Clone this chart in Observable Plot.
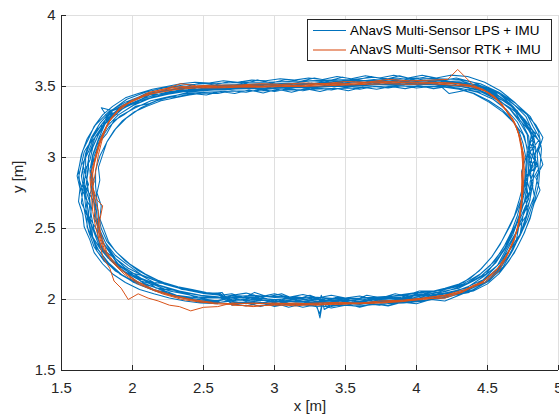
<!DOCTYPE html>
<html><head><meta charset="utf-8">
<script src="https://cdn.jsdelivr.net/npm/d3@7"></script>
<script src="https://cdn.jsdelivr.net/npm/@observablehq/plot@0.6"></script>
<style>
body{margin:0;background:#fff;}
#wrap{position:relative;width:559px;height:420px;font-family:"Liberation Sans",Arial,sans-serif;}
#legend{position:absolute;left:307px;top:19px;width:245px;height:42px;border:1px solid #262626;background:#fff;box-sizing:border-box;font-size:13.4px;color:#000;}
.item{position:absolute;left:0;height:16px;width:240px;}
.sw{position:absolute;left:5px;width:33px;}
.lab{position:absolute;left:42px;top:0;line-height:16px;white-space:nowrap;}
</style>
</head><body>
<div id="wrap">
<div id="chart"></div>
<div id="legend">
  <div class="item" style="top:3px"><div class="sw" style="top:7px;height:1px;background:#0072BD"></div><div class="lab">ANavS Multi-Sensor LPS + IMU</div></div>
  <div class="item" style="top:22px"><div class="sw" style="top:7px;height:2px;background:#eba183"></div><div class="lab">ANavS Multi-Sensor RTK + IMU</div></div>
</div>
</div>
<script>
const xTicks = [1.5, 2, 2.5, 3, 3.5, 4, 4.5, 5];
const yTicks = [1.5, 2, 2.5, 3, 3.5, 4];
const seriesNames = ["ANavS Multi-Sensor LPS + IMU", "ANavS Multi-Sensor RTK + IMU"];

// LPS + IMU laps (x [m], y [m])
const lps1 = [[2.70,1.97],[2.86,1.975],[3.01,1.96],[3.15,1.97],[3.29,1.95],[3.46,1.96],[3.61,1.955],[3.75,1.97],[3.91,1.975],[4.06,1.99],[4.21,2.02],[4.37,2.05],[4.51,2.13],[4.61,2.23],[4.68,2.35],[4.73,2.46],[4.77,2.58],[4.80,2.71],[4.82,2.82],[4.83,2.95],[4.84,3.06],[4.82,3.18],[4.77,3.29],[4.68,3.38],[4.58,3.46],[4.45,3.52],[4.30,3.55],[4.15,3.555],[4.00,3.56],[3.85,3.55],[3.70,3.565],[3.55,3.55],[3.40,3.545],[3.25,3.54],[3.10,3.535],[2.95,3.53],[2.80,3.53],[2.65,3.525],[2.50,3.52],[2.36,3.51],[2.22,3.49],[2.09,3.46],[1.96,3.41],[1.85,3.33],[1.77,3.24],[1.71,3.14],[1.67,3.03],[1.65,2.91],[1.66,2.80],[1.68,2.69],[1.69,2.58],[1.71,2.47],[1.75,2.36],[1.82,2.27],[1.91,2.18],[2.03,2.11],[2.16,2.06],[2.31,2.02],[2.46,1.99],[2.59,1.98]];
const lps2 = [[2.70,2.03],[2.85,2.02],[3.00,2.025],[3.15,2.01],[3.30,2.015],[3.45,2.005],[3.60,2.01],[3.75,2.02],[3.90,2.03],[4.05,2.05],[4.19,2.07],[4.33,2.11],[4.45,2.18],[4.55,2.27],[4.62,2.38],[4.67,2.48],[4.71,2.59],[4.74,2.70],[4.76,2.82],[4.77,2.94],[4.78,3.05],[4.76,3.15],[4.71,3.25],[4.63,3.34],[4.54,3.41],[4.43,3.46],[4.30,3.49],[4.15,3.50],[4.00,3.50],[3.85,3.505],[3.70,3.50],[3.55,3.49],[3.40,3.485],[3.25,3.48],[3.10,3.475],[2.95,3.47],[2.80,3.47],[2.65,3.465],[2.50,3.46],[2.38,3.45],[2.26,3.43],[2.13,3.40],[2.02,3.35],[1.91,3.29],[1.83,3.21],[1.77,3.12],[1.73,3.01],[1.71,2.91],[1.72,2.80],[1.74,2.69],[1.75,2.58],[1.77,2.49],[1.81,2.40],[1.88,2.31],[1.97,2.24],[2.07,2.17],[2.20,2.12],[2.34,2.08],[2.48,2.05],[2.61,2.035]];
const lps3 = [[2.70,1.99],[2.84,2.01],[3.00,1.98],[3.14,2.00],[3.31,1.97],[3.33,2.03],[3.35,1.93],[3.46,1.99],[3.60,1.97],[3.76,2.00],[3.90,1.99],[4.04,2.03],[4.20,2.03],[4.36,2.09],[4.47,2.14],[4.59,2.26],[4.64,2.35],[4.71,2.48],[4.73,2.57],[4.79,2.71],[4.77,2.83],[4.82,2.94],[4.79,3.05],[4.81,3.17],[4.73,3.26],[4.67,3.37],[4.55,3.43],[4.45,3.50],[4.29,3.51],[4.16,3.54],[4.01,3.52],[3.85,3.545],[3.69,3.52],[3.56,3.535],[3.41,3.50],[3.24,3.525],[3.11,3.495],[2.94,3.51],[2.81,3.49],[2.66,3.505],[2.49,3.48],[2.38,3.49],[2.23,3.45],[2.12,3.44],[1.98,3.37],[1.89,3.32],[1.79,3.22],[1.75,3.14],[1.69,3.01],[1.69,2.92],[1.67,2.79],[1.72,2.70],[1.70,2.57],[1.75,2.49],[1.77,2.37],[1.86,2.30],[1.93,2.20],[2.06,2.15],[2.17,2.08],[2.33,2.06],[2.46,2.01],[2.61,2.01]];
const lps4 = [[2.70,2.00],[2.85,1.99],[3.00,2.00],[3.15,1.98],[3.30,1.985],[3.45,1.97],[3.60,1.985],[3.75,1.98],[3.90,2.00],[4.05,2.01],[4.20,2.04],[4.36,2.07],[4.50,2.13],[4.61,2.22],[4.69,2.33],[4.75,2.45],[4.80,2.57],[4.83,2.69],[4.86,2.81],[4.87,2.94],[4.88,3.06],[4.86,3.18],[4.80,3.29],[4.70,3.38],[4.58,3.46],[4.44,3.51],[4.30,3.53],[4.15,3.54],[4.00,3.535],[3.85,3.54],[3.70,3.53],[3.55,3.53],[3.40,3.52],[3.25,3.52],[3.10,3.51],[2.95,3.51],[2.80,3.505],[2.65,3.50],[2.50,3.50],[2.36,3.49],[2.22,3.47],[2.08,3.44],[1.95,3.39],[1.83,3.32],[1.74,3.23],[1.68,3.13],[1.64,3.02],[1.62,2.91],[1.63,2.80],[1.65,2.69],[1.67,2.58],[1.69,2.48],[1.73,2.37],[1.80,2.27],[1.90,2.19],[2.01,2.12],[2.15,2.07],[2.30,2.03],[2.46,2.00],[2.59,1.99]];
const lps5 = [[2.70,2.02],[2.85,2.01],[3.00,2.00],[3.15,2.01],[3.30,1.99],[3.45,2.00],[3.60,1.99],[3.75,2.01],[3.90,2.02],[4.05,2.04],[4.20,2.07],[4.33,2.12],[4.44,2.20],[4.53,2.30],[4.60,2.41],[4.66,2.52],[4.71,2.63],[4.75,2.74],[4.77,2.85],[4.78,2.96],[4.78,3.07],[4.75,3.16],[4.69,3.24],[4.61,3.32],[4.51,3.39],[4.40,3.45],[4.27,3.49],[4.13,3.51],[4.00,3.52],[3.85,3.515],[3.70,3.52],[3.55,3.51],[3.40,3.50],[3.25,3.50],[3.10,3.49],[2.95,3.49],[2.80,3.485],[2.65,3.48],[2.50,3.47],[2.39,3.46],[2.28,3.43],[2.17,3.40],[2.06,3.35],[1.96,3.28],[1.88,3.20],[1.82,3.11],[1.77,3.01],[1.74,2.91],[1.74,2.80],[1.75,2.69],[1.76,2.59],[1.78,2.50],[1.82,2.41],[1.89,2.33],[1.98,2.25],[2.09,2.18],[2.21,2.12],[2.35,2.08],[2.49,2.05],[2.61,2.03]];
const lps6 = [[2.70,1.985],[2.86,1.97],[3.01,1.99],[3.16,1.96],[3.28,1.98],[3.32,1.90],[3.34,2.00],[3.45,1.965],[3.61,1.975],[3.74,1.96],[3.89,1.99],[4.06,1.995],[4.21,2.03],[4.36,2.06],[4.49,2.15],[4.60,2.24],[4.66,2.36],[4.73,2.46],[4.75,2.59],[4.80,2.70],[4.80,2.83],[4.84,2.93],[4.82,3.06],[4.82,3.16],[4.75,3.28],[4.68,3.36],[4.57,3.46],[4.45,3.50],[4.31,3.54],[4.14,3.53],[4.00,3.555],[3.86,3.535],[3.70,3.55],[3.54,3.53],[3.40,3.54],[3.26,3.52],[3.10,3.525],[2.96,3.515],[2.80,3.52],[2.64,3.505],[2.50,3.505],[2.36,3.495],[2.23,3.47],[2.09,3.45],[1.97,3.39],[1.86,3.33],[1.78,3.23],[1.72,3.14],[1.67,3.03],[1.67,2.90],[1.66,2.81],[1.70,2.68],[1.69,2.59],[1.73,2.47],[1.76,2.39],[1.84,2.28],[1.92,2.21],[2.04,2.12],[2.18,2.08],[2.31,2.03],[2.46,2.01],[2.60,1.99]];
const lps7 = [[2.70,2.01],[2.85,2.015],[3.00,2.00],[3.15,2.005],[3.30,1.99],[3.45,1.995],[3.60,1.99],[3.75,2.005],[3.90,2.01],[4.05,2.035],[4.20,2.055],[4.34,2.10],[4.46,2.17],[4.56,2.26],[4.63,2.37],[4.68,2.48],[4.73,2.59],[4.75,2.71],[4.78,2.83],[4.79,2.94],[4.79,3.05],[4.78,3.16],[4.72,3.26],[4.65,3.35],[4.55,3.43],[4.43,3.48],[4.30,3.505],[4.15,3.515],[4.00,3.52],[3.85,3.52],[3.70,3.515],[3.55,3.505],[3.40,3.50],[3.25,3.495],[3.10,3.49],[2.95,3.485],[2.80,3.485],[2.65,3.48],[2.50,3.475],[2.37,3.465],[2.25,3.445],[2.12,3.415],[2.00,3.365],[1.90,3.30],[1.84,3.32],[1.80,3.22],[1.76,3.13],[1.72,3.02],[1.70,2.91],[1.71,2.80],[1.73,2.69],[1.74,2.58],[1.76,2.48],[1.80,2.39],[1.87,2.30],[1.95,2.22],[2.06,2.15],[2.19,2.10],[2.33,2.06],[2.48,2.03],[2.60,2.02]];
const lps8 = [[2.70,1.975],[2.85,1.985],[3.00,1.97],[3.15,1.99],[3.30,1.965],[3.45,1.975],[3.60,1.965],[3.75,1.985],[3.90,1.98],[4.05,2.01],[4.20,2.025],[4.35,2.06],[4.48,2.12],[4.59,2.22],[4.67,2.34],[4.73,2.45],[4.78,2.56],[4.82,2.68],[4.84,2.79],[4.86,2.90],[4.85,3.02],[4.87,3.13],[4.82,3.22],[4.78,3.30],[4.69,3.37],[4.58,3.45],[4.43,3.49],[4.23,3.45],[4.15,3.52],[4.00,3.51],[3.85,3.525],[3.70,3.51],[3.55,3.50],[3.40,3.50],[3.25,3.49],[3.10,3.495],[2.95,3.48],[2.80,3.49],[2.65,3.475],[2.50,3.48],[2.36,3.47],[2.20,3.44],[2.05,3.40],[1.92,3.34],[1.82,3.29],[1.77,3.18],[1.70,3.10],[1.66,2.98],[1.64,2.87],[1.66,2.76],[1.67,2.65],[1.69,2.55],[1.71,2.45],[1.76,2.35],[1.83,2.26],[1.93,2.17],[2.06,2.10],[2.20,2.05],[2.35,2.015],[2.50,1.995],[2.62,1.98]];
const lps9 = [[2.70,1.995],[2.86,2.00],[3.00,1.985],[3.14,1.99],[3.30,1.975],[3.44,1.99],[3.60,1.975],[3.76,1.99],[3.90,2.005],[4.04,2.02],[4.20,2.045],[4.35,2.08],[4.47,2.16],[4.57,2.24],[4.64,2.37],[4.70,2.47],[4.75,2.59],[4.78,2.69],[4.81,2.81],[4.80,2.95],[4.83,3.07],[4.80,3.18],[4.75,3.28],[4.66,3.37],[4.56,3.45],[4.44,3.50],[4.30,3.525],[4.16,3.55],[4.00,3.54],[3.86,3.56],[3.70,3.54],[3.55,3.545],[3.40,3.53],[3.26,3.54],[3.10,3.52],[2.95,3.52],[2.80,3.515],[2.65,3.51],[2.50,3.50],[2.37,3.49],[2.24,3.47],[2.10,3.44],[1.98,3.39],[1.88,3.32],[1.80,3.24],[1.74,3.15],[1.70,3.04],[1.68,2.93],[1.68,2.82],[1.70,2.70],[1.71,2.59],[1.73,2.49],[1.77,2.39],[1.84,2.29],[1.93,2.22],[2.04,2.15],[2.18,2.10],[2.32,2.055],[2.47,2.03],[2.60,2.01]];
const lps10 = [[2.70,2.02],[2.85,2.03],[3.00,2.015],[3.15,2.02],[3.30,2.00],[3.45,2.01],[3.60,2.00],[3.75,2.015],[3.90,2.02],[4.02,2.06],[4.13,2.06],[4.20,2.07],[4.33,2.10],[4.45,2.16],[4.54,2.24],[4.62,2.35],[4.68,2.46],[4.72,2.57],[4.76,2.69],[4.78,2.81],[4.79,2.93],[4.80,3.04],[4.79,3.15],[4.74,3.25],[4.66,3.34],[4.56,3.42],[4.45,3.47],[4.31,3.50],[4.15,3.51],[4.00,3.515],[3.85,3.51],[3.70,3.52],[3.55,3.50],[3.40,3.505],[3.25,3.495],[3.10,3.50],[2.95,3.49],[2.80,3.495],[2.65,3.485],[2.50,3.485],[2.38,3.47],[2.25,3.45],[2.13,3.42],[2.01,3.37],[1.90,3.30],[1.82,3.22],[1.76,3.12],[1.72,3.01],[1.71,2.90],[1.71,2.79],[1.73,2.68],[1.74,2.58],[1.77,2.48],[1.82,2.38],[1.88,2.29],[1.97,2.22],[2.09,2.16],[2.22,2.11],[2.36,2.07],[2.51,2.04],[2.62,2.03]];
const lps11 = [[2.70,2.04],[2.78,2.01],[2.86,2.05],[2.95,2.02],[3.05,2.04],[3.15,2.00],[3.25,2.03],[3.35,1.99],[3.45,2.02],[3.55,1.99],[3.65,2.03],[3.75,2.01],[3.85,2.04],[3.95,2.02],[4.05,2.06],[4.15,2.05],[4.25,2.09],[4.35,2.11],[4.44,2.17],[4.52,2.24],[4.59,2.33],[4.65,2.43],[4.70,2.53],[4.74,2.64],[4.78,2.74],[4.76,2.84],[4.81,2.93],[4.78,3.03],[4.83,3.12],[4.78,3.21],[4.72,3.30],[4.64,3.39],[4.53,3.47],[4.40,3.53],[4.28,3.56],[4.18,3.54],[4.08,3.57],[3.98,3.55],[3.88,3.575],[3.78,3.55],[3.68,3.57],[3.58,3.545],[3.48,3.565],[3.38,3.54],[3.28,3.56],[3.18,3.535],[3.08,3.55],[2.98,3.525],[2.88,3.545],[2.78,3.52],[2.68,3.535],[2.58,3.51],[2.48,3.525],[2.38,3.50],[2.28,3.495],[2.18,3.46],[2.08,3.43],[1.98,3.40],[1.90,3.34],[1.83,3.28],[1.78,3.20],[1.72,3.12],[1.69,3.04],[1.65,2.96],[1.67,2.87],[1.64,2.78],[1.68,2.70],[1.67,2.61],[1.71,2.53],[1.72,2.44],[1.77,2.36],[1.83,2.29],[1.90,2.24],[1.98,2.19],[2.06,2.17],[2.15,2.12],[2.25,2.11],[2.35,2.07],[2.45,2.06],[2.55,2.04],[2.63,2.05]];
const lps12 = [[2.70,1.96],[2.80,1.98],[2.90,1.95],[3.00,1.975],[3.10,1.945],[3.20,1.97],[3.30,1.95],[3.32,1.87],[3.34,1.99],[3.40,1.95],[3.50,1.97],[3.60,1.945],[3.70,1.97],[3.80,1.955],[3.90,1.98],[4.00,1.97],[4.10,2.00],[4.20,1.99],[4.30,2.03],[4.40,2.07],[4.49,2.12],[4.58,2.21],[4.65,2.31],[4.71,2.42],[4.76,2.53],[4.79,2.63],[4.83,2.73],[4.81,2.83],[4.86,2.92],[4.83,3.01],[4.87,3.10],[4.82,3.19],[4.76,3.27],[4.66,3.35],[4.56,3.41],[4.46,3.46],[4.34,3.48],[4.22,3.50],[4.12,3.485],[4.02,3.505],[3.92,3.485],[3.82,3.50],[3.72,3.48],[3.62,3.495],[3.52,3.47],[3.42,3.49],[3.32,3.465],[3.22,3.485],[3.12,3.46],[3.02,3.48],[2.92,3.455],[2.82,3.475],[2.72,3.45],[2.62,3.465],[2.52,3.44],[2.42,3.45],[2.32,3.43],[2.22,3.42],[2.12,3.38],[2.02,3.36],[1.94,3.30],[1.87,3.26],[1.82,3.17],[1.76,3.10],[1.74,3.00],[1.70,2.92],[1.73,2.83],[1.70,2.74],[1.74,2.66],[1.73,2.57],[1.77,2.49],[1.79,2.40],[1.84,2.33],[1.90,2.25],[1.99,2.18],[2.07,2.12],[2.17,2.08],[2.28,2.03],[2.38,2.01],[2.48,1.98],[2.58,1.975]];
const lps13 = [[2.70,1.99],[2.80,1.97],[2.90,2.00],[3.00,1.975],[3.10,2.01],[3.20,1.98],[3.30,2.005],[3.40,1.975],[3.50,2.00],[3.60,1.98],[3.70,2.00],[3.80,1.99],[3.90,2.02],[4.00,2.00],[4.10,2.04],[4.20,2.03],[4.30,2.07],[4.40,2.09],[4.50,2.16],[4.58,2.22],[4.63,2.32],[4.70,2.40],[4.72,2.51],[4.78,2.60],[4.77,2.71],[4.82,2.80],[4.79,2.90],[4.84,3.00],[4.80,3.10],[4.84,3.17],[4.76,3.24],[4.71,3.33],[4.61,3.40],[4.50,3.47],[4.38,3.50],[4.26,3.53],[4.16,3.515],[4.06,3.545],[3.96,3.52],[3.86,3.54],[3.76,3.515],[3.66,3.535],[3.56,3.51],[3.46,3.53],[3.36,3.505],[3.26,3.525],[3.16,3.50],[3.06,3.52],[2.96,3.495],[2.86,3.515],[2.76,3.49],[2.66,3.505],[2.56,3.48],[2.46,3.495],[2.36,3.47],[2.26,3.465],[2.16,3.44],[2.06,3.41],[1.96,3.37],[1.86,3.33],[1.78,3.35],[1.84,3.26],[1.75,3.20],[1.71,3.12],[1.66,3.04],[1.64,2.95],[1.62,2.86],[1.65,2.77],[1.64,2.68],[1.68,2.60],[1.68,2.51],[1.72,2.43],[1.75,2.34],[1.81,2.27],[1.88,2.20],[1.97,2.15],[2.07,2.11],[2.17,2.06],[2.27,2.04],[2.37,2.01],[2.47,2.00],[2.58,1.99]];
const lps14 = [[2.70,2.01],[2.80,1.99],[2.90,2.02],[3.00,1.99],[3.10,2.015],[3.20,1.985],[3.30,2.01],[3.36,1.96],[3.40,2.00],[3.50,1.985],[3.60,2.005],[3.70,1.99],[3.80,2.01],[3.90,2.00],[4.00,2.03],[4.10,2.02],[4.20,2.06],[4.30,2.08],[4.40,2.13],[4.49,2.18],[4.56,2.27],[4.62,2.36],[4.67,2.46],[4.72,2.56],[4.75,2.66],[4.80,2.76],[4.77,2.87],[4.85,2.94],[4.80,3.04],[4.86,3.12],[4.79,3.20],[4.74,3.28],[4.68,3.36],[4.58,3.43],[4.47,3.49],[4.35,3.515],[4.25,3.53],[4.15,3.53],[4.05,3.52],[3.95,3.54],[3.85,3.52],[3.75,3.54],[3.65,3.525],[3.55,3.535],[3.45,3.515],[3.35,3.53],[3.25,3.51],[3.15,3.525],[3.05,3.505],[2.95,3.52],[2.85,3.50],[2.75,3.51],[2.65,3.49],[2.55,3.50],[2.45,3.48],[2.35,3.475],[2.25,3.45],[2.15,3.43],[2.05,3.39],[1.95,3.36],[1.87,3.29],[1.81,3.24],[1.76,3.16],[1.72,3.07],[1.70,2.98],[1.66,2.90],[1.69,2.81],[1.66,2.73],[1.71,2.64],[1.70,2.55],[1.74,2.46],[1.78,2.38],[1.82,2.31],[1.90,2.23],[1.97,2.18],[2.06,2.13],[2.16,2.10],[2.26,2.06],[2.36,2.04],[2.46,2.02],[2.58,2.01]];
const lps15 = [[2.70,2.03],[2.80,2.045],[2.90,2.02],[3.00,2.04],[3.10,2.015],[3.20,2.035],[3.30,2.01],[3.40,2.03],[3.50,2.01],[3.60,2.025],[3.70,2.00],[3.80,2.02],[3.90,2.035],[4.00,2.05],[4.10,2.055],[4.20,2.08],[4.30,2.11],[4.38,2.15],[4.46,2.22],[4.53,2.30],[4.59,2.39],[4.64,2.49],[4.69,2.59],[4.72,2.69],[4.75,2.80],[4.74,2.90],[4.77,3.00],[4.75,3.10],[4.72,3.19],[4.67,3.27],[4.60,3.34],[4.51,3.40],[4.41,3.45],[4.30,3.48],[4.20,3.495],[4.10,3.50],[4.00,3.49],[3.90,3.505],[3.80,3.49],[3.70,3.50],[3.60,3.48],[3.50,3.495],[3.40,3.475],[3.30,3.49],[3.20,3.47],[3.10,3.485],[3.00,3.465],[2.90,3.48],[2.80,3.46],[2.70,3.47],[2.60,3.45],[2.50,3.455],[2.40,3.44],[2.30,3.42],[2.20,3.40],[2.10,3.36],[2.01,3.32],[1.93,3.26],[1.87,3.19],[1.82,3.11],[1.79,3.02],[1.76,2.93],[1.77,2.84],[1.75,2.75],[1.78,2.66],[1.77,2.57],[1.80,2.49],[1.83,2.41],[1.88,2.34],[1.95,2.27],[2.03,2.21],[2.12,2.16],[2.22,2.12],[2.32,2.09],[2.42,2.07],[2.52,2.05],[2.62,2.04]];
const lps16 = [[2.70,1.97],[2.80,1.955],[2.90,1.98],[3.00,1.95],[3.10,1.97],[3.20,1.945],[3.30,1.965],[3.40,1.94],[3.50,1.96],[3.60,1.95],[3.70,1.97],[3.80,1.96],[3.90,1.98],[4.00,1.985],[4.10,2.00],[4.20,2.01],[4.30,2.04],[4.40,2.06],[4.50,2.11],[4.58,2.18],[4.65,2.27],[4.71,2.37],[4.76,2.47],[4.80,2.58],[4.83,2.68],[4.87,2.77],[4.84,2.86],[4.89,2.95],[4.86,3.05],[4.89,3.14],[4.84,3.23],[4.77,3.31],[4.69,3.39],[4.59,3.47],[4.48,3.53],[4.36,3.57],[4.24,3.58],[4.14,3.56],[4.04,3.58],[3.94,3.56],[3.84,3.58],[3.74,3.56],[3.64,3.575],[3.54,3.555],[3.44,3.57],[3.34,3.55],[3.24,3.56],[3.14,3.545],[3.04,3.555],[2.94,3.54],[2.84,3.545],[2.74,3.53],[2.64,3.54],[2.54,3.525],[2.44,3.53],[2.34,3.52],[2.24,3.50],[2.14,3.48],[2.04,3.45],[1.95,3.42],[1.86,3.36],[1.79,3.30],[1.73,3.22],[1.69,3.13],[1.65,3.05],[1.63,2.96],[1.61,2.87],[1.63,2.78],[1.62,2.69],[1.65,2.60],[1.66,2.51],[1.70,2.42],[1.73,2.33],[1.79,2.25],[1.86,2.18],[1.95,2.12],[2.05,2.07],[2.15,2.04],[2.26,2.01],[2.37,1.99],[2.48,1.975],[2.60,1.97]];

// RTK + IMU laps (x [m], y [m])
const rtk1 = [[2.70,1.96],[2.85,1.955],[3.00,1.96],[3.15,1.965],[3.30,1.96],[3.45,1.97],[3.60,1.97],[3.75,1.98],[3.90,1.99],[4.05,2.00],[4.20,2.02],[4.33,2.06],[4.45,2.11],[4.55,2.19],[4.62,2.28],[4.67,2.38],[4.71,2.49],[4.73,2.60],[4.74,2.72],[4.75,2.85],[4.75,2.97],[4.74,3.08],[4.72,3.17],[4.68,3.27],[4.62,3.35],[4.55,3.43],[4.47,3.48],[4.37,3.51],[4.25,3.525],[4.10,3.53],[3.95,3.53],[3.80,3.535],[3.65,3.53],[3.50,3.52],[3.35,3.52],[3.20,3.51],[3.05,3.51],[2.90,3.51],[2.75,3.505],[2.60,3.50],[2.45,3.50],[2.33,3.49],[2.20,3.47],[2.08,3.43],[1.97,3.38],[1.89,3.32],[1.82,3.23],[1.77,3.12],[1.74,3.01],[1.72,2.89],[1.72,2.77],[1.73,2.65],[1.75,2.53],[1.77,2.43],[1.80,2.34],[1.86,2.26],[1.94,2.18],[2.04,2.11],[2.16,2.06],[2.30,2.02],[2.45,1.99],[2.58,1.97]];
const rtk2 = [[2.70,1.965],[2.85,1.95],[3.00,1.965],[3.15,1.955],[3.30,1.97],[3.45,1.965],[3.60,1.975],[3.75,1.975],[3.90,1.985],[4.05,2.005],[4.20,2.01],[4.32,2.05],[4.46,2.12],[4.56,2.20],[4.63,2.30],[4.68,2.41],[4.72,2.52],[4.73,2.64],[4.75,2.76],[4.74,2.88],[4.76,3.00],[4.73,3.12],[4.71,3.20],[4.66,3.29],[4.60,3.38],[4.52,3.45],[4.40,3.51],[4.29,3.62],[4.22,3.55],[4.10,3.545],[3.95,3.54],[3.80,3.55],[3.65,3.53],[3.50,3.535],[3.35,3.52],[3.20,3.525],[3.05,3.515],[2.90,3.52],[2.75,3.51],[2.60,3.51],[2.45,3.505],[2.34,3.52],[2.22,3.48],[2.12,3.46],[2.02,3.41],[1.92,3.36],[1.85,3.28],[1.80,3.18],[1.76,3.08],[1.73,2.97],[1.70,2.86],[1.71,2.74],[1.72,2.62],[1.74,2.51],[1.77,2.40],[1.79,2.30],[1.84,2.22],[1.87,2.13],[1.92,2.08],[1.97,2.00],[2.04,2.04],[2.11,2.01],[2.18,1.99],[2.26,1.96],[2.33,1.95],[2.41,1.92],[2.50,1.945],[2.60,1.95]];
const rtk3 = [[2.70,1.975],[2.85,1.97],[3.00,1.975],[3.15,1.97],[3.30,1.975],[3.45,1.98],[3.60,1.975],[3.75,1.99],[3.90,1.995],[4.05,2.01],[4.20,2.03],[4.34,2.07],[4.47,2.13],[4.57,2.22],[4.64,2.32],[4.69,2.43],[4.72,2.54],[4.74,2.66],[4.75,2.78],[4.76,2.91],[4.75,3.03],[4.73,3.14],[4.69,3.24],[4.63,3.33],[4.56,3.41],[4.48,3.47],[4.38,3.50],[4.25,3.51],[4.10,3.52],[3.95,3.515],[3.80,3.52],[3.65,3.515],[3.50,3.51],[3.35,3.505],[3.20,3.50],[3.05,3.50],[2.90,3.495],[2.75,3.495],[2.60,3.49],[2.45,3.49],[2.32,3.48],[2.20,3.46],[2.09,3.44],[1.99,3.40],[1.91,3.34],[1.84,3.26],[1.79,3.16],[1.76,3.06],[1.73,2.95],[1.71,2.84],[1.73,2.72],[1.76,2.62],[1.76,2.52],[1.79,2.42],[1.82,2.33],[1.89,2.24],[1.98,2.16],[2.09,2.09],[2.21,2.04],[2.35,2.00],[2.49,1.98],[2.60,1.975]];
const rtk4 = [[2.70,1.97],[2.85,1.975],[3.00,1.97],[3.15,1.975],[3.30,1.965],[3.45,1.975],[3.60,1.97],[3.75,1.98],[3.90,1.99],[4.05,2.01],[4.20,2.03],[4.32,2.05],[4.40,2.10],[4.48,2.12],[4.58,2.20],[4.64,2.31],[4.69,2.42],[4.72,2.55],[4.74,2.67],[4.74,2.80],[4.75,2.92],[4.74,3.05],[4.72,3.16],[4.69,3.25],[4.63,3.33],[4.58,3.40],[4.50,3.46],[4.40,3.50],[4.28,3.52],[4.12,3.525],[3.97,3.525],[3.82,3.53],[3.67,3.525],[3.52,3.515],[3.37,3.515],[3.22,3.505],[3.07,3.505],[2.92,3.50],[2.77,3.50],[2.62,3.495],[2.47,3.495],[2.34,3.50],[2.21,3.48],[2.10,3.45],[2.00,3.40],[1.91,3.35],[1.83,3.25],[1.79,3.14],[1.76,3.02],[1.74,2.90],[1.72,2.79],[1.75,2.70],[1.79,2.66],[1.77,2.56],[1.77,2.45],[1.80,2.36],[1.85,2.28],[1.93,2.20],[2.03,2.13],[2.15,2.07],[2.28,2.03],[2.42,2.00],[2.56,1.98]];

const lpsLaps = [lps1, lps2, lps3, lps4, lps5, lps6, lps7, lps8, lps9, lps10, lps11, lps12, lps13, lps14, lps15, lps16];
const rtkLaps = [rtk1, rtk2, rtk3, rtk4];
const toRows = (laps, name) => laps.flat().map(([x, y]) => ({x, y, series: name}));
const lpsData = toRows(lpsLaps, seriesNames[0]);
const rtkData = toRows(rtkLaps, seriesNames[1]);

const W = 559, H = 420, mL = 61, mR = 1, mT = 15, mB = 50;
const innerW = W - mL - mR, innerH = H - mT - mB;
const axisColor = "#262626", gridColor = "#dfdfdf";

const chart = Plot.plot({
  width: W, height: H,
  marginLeft: mL, marginRight: mR, marginTop: mT, marginBottom: mB,
  style: {fontFamily: "'Liberation Sans', Arial, sans-serif", fontSize: "15px", color: axisColor, background: "#fff"},
  x: {domain: [1.5, 5]},
  y: {domain: [1.5, 4]},
  marks: [
    Plot.gridX(xTicks, {stroke: gridColor, strokeOpacity: 1}),
    Plot.gridY(yTicks, {stroke: gridColor, strokeOpacity: 1}),
    Plot.line(lpsData, {x: "x", y: "y", stroke: "#0072BD", strokeWidth: 1.05, strokeLinejoin: "round"}),
    Plot.line(rtkData, {x: "x", y: "y", stroke: "#D95319", strokeWidth: 1, strokeLinejoin: "round"}),
    Plot.ruleX([1.5], {stroke: axisColor, strokeWidth: 1}),
    Plot.ruleY([1.5], {stroke: axisColor, strokeWidth: 1}),
    Plot.ruleX(xTicks, {stroke: axisColor, insetTop: innerH - 5}),
    Plot.ruleY(yTicks, {stroke: axisColor, insetRight: innerW - 5}),
    Plot.axisX(xTicks, {tickSize: 0, tickPadding: 12, label: null, tickFormat: d => String(d), fill: axisColor}),
    Plot.axisY(yTicks, {tickSize: 0, tickPadding: 6, label: null, tickFormat: d => String(d), fill: axisColor}),
    Plot.text(["x [m]"], {frameAnchor: "bottom", dy: 40, fill: axisColor, fontSize: 15}),
    Plot.text(["y [m]"], {frameAnchor: "left", dx: -43, rotate: -90, fill: axisColor, fontSize: 15})
  ]
});
document.getElementById("chart").appendChild(chart);
</script>
</body></html>
